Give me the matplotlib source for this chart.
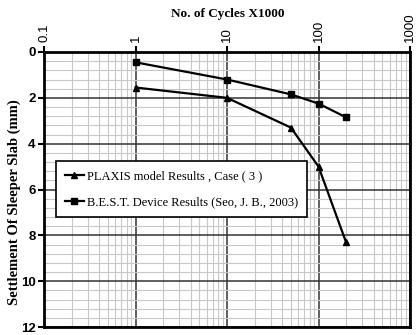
import numpy as np
import matplotlib
matplotlib.use("Agg")
import matplotlib.pyplot as plt
from matplotlib.ticker import FixedLocator, MultipleLocator, LogLocator, NullFormatter

# data
cycles = [1, 10, 50, 100, 200]
plaxis_settlement = [1.55, 2.0, 3.3, 5.0, 8.3]
best_settlement = [0.45, 1.2, 1.85, 2.25, 2.85]

x_ticks = [0.1, 1, 10, 100, 1000]
x_tick_labels = ["0.1", "1", "10", "100", "1000"]
y_ticks = [0, 2, 4, 6, 8, 10, 12]

serif = ["Liberation Serif", "DejaVu Serif"]
sans = ["Liberation Sans", "DejaVu Sans"]

fig = plt.figure(figsize=(4.16, 3.35), dpi=100)
ax = fig.add_axes([44 / 416, 1 - 327 / 335, 366 / 416, 275 / 335])

ax.set_xscale("log")
ax.set_xlim(0.1, 1000)
ax.set_ylim(12, 0)

ax.plot(cycles, plaxis_settlement, color="black", lw=1.6, marker="^", ms=5,
        label="PLAXIS model Results , Case ( 3 )", zorder=5)
ax.plot(cycles, best_settlement, color="black", lw=1.6, marker="s", ms=5,
        label="B.E.S.T. Device Results (Seo, J. B., 2003)", zorder=5)

# ticks on top
ax.xaxis.tick_top()
ax.xaxis.set_major_locator(FixedLocator(x_ticks))
ax.xaxis.set_minor_locator(LogLocator(base=10, subs=np.arange(2, 10)))
ax.xaxis.set_minor_formatter(NullFormatter())
ax.set_xticks(x_ticks)
ax.set_xticklabels(x_tick_labels, rotation=90, family=sans, fontsize=9.5)
ax.yaxis.set_major_locator(FixedLocator(y_ticks))
ax.yaxis.set_minor_locator(MultipleLocator(0.4))
ax.set_yticks(y_ticks)
ax.set_yticklabels([str(v) for v in y_ticks], family=sans, fontsize=9.5, fontweight="bold")

ax.tick_params(axis="both", which="major", length=4, width=1.5, color="black", pad=2)
ax.tick_params(axis="x", which="major", pad=3)
ax.tick_params(axis="both", which="minor", length=0)

ax.grid(True, which="major", color="#333333", lw=1.1)
ax.grid(True, which="minor", color="#c8c8c8", lw=0.8)
ax.set_axisbelow(True)

for s in ax.spines.values():
    s.set_linewidth(2)
    s.set_color("black")

fig.text(228 / 416, 1 - 14 / 335, "No. of Cycles X1000", family=serif, fontsize=9.5,
         fontweight="bold", ha="center", va="center")
ax.set_ylabel("Settlement Of Sleeper Slab (mm)", family=serif, fontsize=10.5, fontweight="bold")
ax.yaxis.set_label_coords(-0.064, 0.455)

leg = ax.legend(loc="upper left", bbox_to_anchor=(0.016, 0.625), prop={"family": serif, "size": 9},
                frameon=True, fancybox=False, edgecolor="black", framealpha=1,
                handlelength=1.5, handletextpad=0.3, labelspacing=1.1, borderpad=0.7)
leg.get_frame().set_linewidth(1.2)

fig.savefig("out.png", dpi=100)
